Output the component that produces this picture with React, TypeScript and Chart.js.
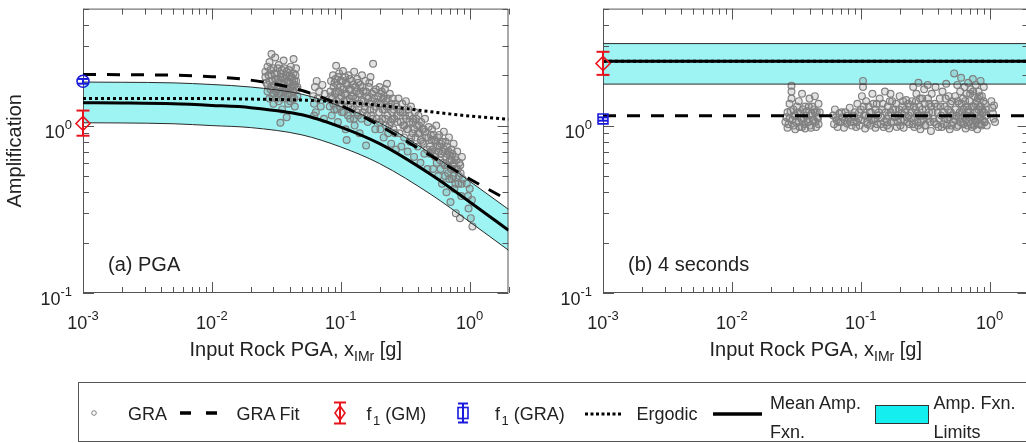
import React, { useEffect, useRef } from "react";
import { Chart, registerables } from "chart.js";

Chart.register(...registerables);

const FONT = "'Liberation Sans', Arial, Helvetica, sans-serif";

// ---------- axes ----------
const xRange = [0.001, 2];
const yRange = [0.1, 5];
const xTickValues = [0.001, 0.01, 0.1, 1];
const xTickExponents = ["-3", "-2", "-1", "0"];
const yTickValues = [0.1, 1];
const yTickExponents = ["-1", "0"];

// ---------- (a) PGA ----------
const curveX = [0.001, 0.002, 0.005, 0.01, 0.02, 0.05, 0.1, 0.2, 0.5, 1, 2];
const pgaMean = [1.37, 1.365, 1.35, 1.32, 1.28, 1.16, 0.98, 0.78, 0.51, 0.35, 0.237];
const pgaUpper = [1.82, 1.815, 1.8, 1.76, 1.7, 1.54, 1.3, 1.04, 0.68, 0.465, 0.316];
const pgaLower = [1.04, 1.037, 1.026, 1.0, 0.973, 0.88, 0.745, 0.593, 0.388, 0.266, 0.18];
const pgaErgodic = [1.45, 1.45, 1.45, 1.45, 1.44, 1.42, 1.38, 1.32, 1.21, 1.14, 1.09];
const pgaGraFit = [2.02, 2.015, 2.0, 1.96, 1.87, 1.62, 1.32, 1.0, 0.66, 0.48, 0.358];
const pgaF1GM = [1.03, 0.87, 1.23]; // value, low, high
const pgaF1GRA = [1.84, 1.78, 1.9];

const pgaGRA = [
  [0.026, 1.95], [0.026, 2.1], [0.027, 1.75], [0.027, 2.25], [0.027, 1.6], [0.028, 1.85], [0.028, 2.4], [0.028, 1.45],
  [0.029, 2.0], [0.029, 1.7], [0.029, 2.68], [0.03, 2.2], [0.03, 1.55], [0.03, 1.35], [0.031, 1.9], [0.031, 2.55],
  [0.032, 1.65], [0.032, 2.05], [0.033, 1.8], [0.033, 1.4], [0.033, 2.3], [0.034, 1.95], [0.034, 1.6], [0.034, 1.04],
  [0.035, 2.15], [0.035, 1.25], [0.036, 1.75], [0.036, 2.45], [0.037, 1.5], [0.037, 1.9], [0.038, 2.1], [0.038, 1.65],
  [0.038, 1.12], [0.039, 1.8], [0.039, 1.35], [0.04, 2.0], [0.04, 1.55], [0.041, 2.25], [0.041, 1.7], [0.042, 1.45],
  [0.042, 1.9], [0.043, 2.05], [0.043, 1.6], [0.043, 2.5], [0.044, 1.75], [0.044, 1.3], [0.045, 1.85], [0.045, 2.2],
  [0.046, 1.5], [0.046, 1.7],
  [0.061, 1.5], [0.062, 1.35], [0.063, 1.7], [0.064, 1.2], [0.065, 1.85], [0.066, 1.45], [0.068, 1.6], [0.07, 1.3],
  [0.072, 1.75], [0.074, 1.1], [0.075, 1.55], [0.062, 1.15],
  [0.082, 1.3], [0.083, 1.6], [0.084, 1.85], [0.085, 1.15], [0.086, 1.45], [0.087, 2.0], [0.088, 1.7], [0.089, 1.25],
  [0.09, 1.55], [0.091, 1.9], [0.092, 2.28], [0.093, 1.4], [0.094, 1.75], [0.095, 1.05], [0.096, 1.6], [0.097, 2.05],
  [0.098, 1.3], [0.1, 1.85], [0.101, 1.5], [0.102, 1.2], [0.104, 2.12], [0.105, 1.65], [0.106, 1.4], [0.108, 1.95],
  [0.109, 0.95], [0.11, 1.55], [0.111, 0.82], [0.112, 1.75], [0.114, 1.3], [0.115, 2.0], [0.117, 1.45], [0.118, 1.1],
  [0.12, 1.65], [0.122, 1.85], [0.123, 1.25], [0.125, 1.5], [0.127, 2.1], [0.128, 1.0], [0.13, 1.7], [0.132, 1.35],
  [0.134, 1.9], [0.136, 1.15], [0.138, 1.55], [0.14, 0.9], [0.142, 1.75], [0.144, 1.4], [0.146, 2.0], [0.148, 1.2],
  [0.15, 1.6], [0.153, 1.3], [0.155, 1.85], [0.157, 0.76], [0.16, 1.5], [0.162, 1.05], [0.165, 1.7], [0.168, 1.35],
  [0.17, 1.95], [0.172, 1.15], [0.175, 1.55], [0.178, 2.34], [0.18, 1.25], [0.182, 1.45], [0.185, 0.95], [0.187, 1.65],
  [0.19, 1.1], [0.19, 1.38],
  [0.195, 1.5], [0.198, 1.2], [0.2, 1.7], [0.203, 0.95], [0.205, 1.35], [0.208, 1.6], [0.21, 1.1], [0.213, 1.45],
  [0.215, 0.85], [0.218, 1.25], [0.22, 1.65], [0.223, 1.0], [0.225, 1.4], [0.228, 1.78], [0.23, 1.15], [0.233, 0.9],
  [0.236, 1.3], [0.24, 1.55], [0.243, 1.05], [0.246, 0.78], [0.25, 1.2], [0.253, 1.45], [0.256, 0.95], [0.26, 1.1],
  [0.265, 1.35], [0.268, 0.72],
  [0.27, 1.3], [0.275, 1.05], [0.28, 1.45], [0.285, 0.9], [0.29, 1.2], [0.295, 0.75], [0.3, 1.35], [0.305, 1.0],
  [0.31, 0.85], [0.315, 1.15], [0.32, 1.4], [0.325, 0.95], [0.33, 0.7], [0.335, 1.25], [0.34, 1.05], [0.345, 0.8],
  [0.35, 1.3], [0.36, 0.9], [0.365, 1.1], [0.37, 0.65], [0.375, 1.2], [0.38, 0.85], [0.39, 1.0], [0.395, 0.75],
  [0.4, 1.15], [0.41, 0.9], [0.415, 0.6], [0.42, 1.05], [0.43, 0.8], [0.44, 0.95], [0.445, 0.68], [0.45, 1.1],
  [0.46, 0.85], [0.47, 0.55], [0.48, 0.98], [0.49, 0.75], [0.5, 0.88],
  [0.5, 0.7], [0.51, 0.95], [0.52, 0.55], [0.53, 0.82], [0.54, 0.65], [0.55, 1.0], [0.56, 0.75], [0.57, 0.5],
  [0.58, 0.88], [0.59, 0.62], [0.6, 0.78], [0.61, 0.45], [0.62, 0.7], [0.63, 0.92], [0.64, 0.58], [0.65, 0.8],
  [0.66, 0.4], [0.67, 0.68], [0.68, 0.52], [0.69, 0.85], [0.7, 0.62], [0.71, 0.35], [0.72, 0.72], [0.73, 0.48],
  [0.74, 0.58], [0.75, 0.78], [0.76, 0.42], [0.77, 0.65], [0.78, 0.3], [0.79, 0.55], [0.8, 0.7], [0.82, 0.45],
  [0.83, 0.6], [0.84, 0.28], [0.85, 0.52], [0.86, 0.38], [0.87, 0.65], [0.88, 0.48],
  [0.95, 0.45], [0.97, 0.38], [0.98, 0.32], [1.0, 0.42], [1.02, 0.28], [1.04, 0.36], [1.05, 0.25],
];

// denser cores of the PGA clusters
const pgaGRACore = [
  [0.0265, 1.8], [0.0275, 2.0], [0.0285, 1.65], [0.0285, 2.15], [0.0295, 1.85], [0.0295, 1.5], [0.0305, 1.75],
  [0.0305, 2.05], [0.0315, 1.6], [0.0315, 1.45], [0.0325, 1.9], [0.0325, 2.2], [0.0335, 1.7], [0.0335, 1.55],
  [0.0345, 2.05], [0.0345, 1.8], [0.0355, 1.45], [0.0355, 1.95], [0.0365, 1.6], [0.0365, 2.2], [0.0375, 1.7],
  [0.0375, 2.0], [0.0385, 1.85], [0.0385, 1.5], [0.0395, 2.15], [0.0395, 1.65], [0.0405, 1.8], [0.0405, 1.4],
  [0.0415, 1.95], [0.0425, 1.6], [0.0425, 1.75], [0.0435, 1.85], [0.0435, 1.45], [0.0445, 2.0], [0.0455, 1.65],
  [0.0845, 1.5], [0.0875, 1.35], [0.0895, 1.8], [0.0915, 1.6], [0.0935, 1.25], [0.0955, 1.95], [0.0975, 1.45],
  [0.0995, 1.7], [0.1015, 1.35], [0.1035, 1.85], [0.1055, 1.2], [0.1075, 1.55], [0.1095, 1.8], [0.1115, 1.4],
  [0.1135, 1.15], [0.1155, 1.65], [0.1175, 1.9], [0.1195, 1.3], [0.1215, 1.5], [0.1245, 1.75], [0.1265, 1.1],
  [0.1295, 1.45], [0.1315, 1.6], [0.1335, 1.2], [0.1365, 1.8], [0.1395, 1.35], [0.1415, 1.55], [0.1445, 1.1],
  [0.1475, 1.7], [0.1505, 1.4], [0.1535, 1.25], [0.1565, 1.6], [0.1595, 1.15], [0.1635, 1.45], [0.1665, 1.8],
  [0.1695, 1.25], [0.1735, 1.4], [0.1765, 1.1], [0.1805, 1.6], [0.1845, 1.3],
  [0.197, 1.35], [0.201, 1.05], [0.206, 1.55], [0.211, 1.25], [0.216, 1.5], [0.221, 1.1], [0.226, 1.3],
  [0.231, 1.45], [0.238, 1.0], [0.245, 1.35], [0.251, 1.1], [0.258, 1.25], [0.263, 0.9],
  [0.272, 1.15], [0.282, 1.25], [0.292, 1.05], [0.302, 1.2], [0.312, 1.0], [0.322, 1.1], [0.332, 0.95],
  [0.342, 1.15], [0.352, 0.85], [0.362, 1.05], [0.372, 0.95], [0.385, 1.1], [0.398, 0.9], [0.405, 1.0],
  [0.418, 0.82], [0.428, 0.95], [0.438, 0.78], [0.452, 0.92], [0.465, 0.72], [0.478, 0.85], [0.492, 0.68],
  [0.505, 0.82], [0.515, 0.72], [0.525, 0.88], [0.535, 0.68], [0.545, 0.8], [0.555, 0.6], [0.565, 0.85],
  [0.575, 0.7], [0.585, 0.75], [0.595, 0.55], [0.605, 0.68], [0.615, 0.8], [0.625, 0.6], [0.635, 0.72],
  [0.645, 0.5], [0.655, 0.65], [0.665, 0.75], [0.675, 0.58], [0.685, 0.7], [0.695, 0.48], [0.705, 0.66],
  [0.715, 0.55], [0.725, 0.62], [0.735, 0.68], [0.745, 0.5], [0.755, 0.6], [0.765, 0.55], [0.775, 0.45],
  [0.785, 0.62], [0.81, 0.55], [0.825, 0.5], [0.845, 0.58], [0.865, 0.45],
];

// ---------- (b) 4 seconds ----------
const t4X = [0.001, 2];
const t4Mean = [2.42, 2.42];
const t4Upper = [3.09, 3.09];
const t4Lower = [1.77, 1.77];
const t4Ergodic = [2.42, 2.42];
const t4GraFit = [1.147, 1.147];
const t4F1GM = [2.35, 2.01, 2.76];
const t4F1GRA = [1.096, 1.07, 1.12];

const t4GRA = [
  [0.026, 1.05], [0.027, 1.2], [0.027, 0.97], [0.028, 1.35], [0.028, 1.1], [0.029, 1.73], [0.029, 1.6], [0.029, 1.45],
  [0.03, 1.0], [0.03, 1.25], [0.031, 1.15], [0.031, 0.95], [0.032, 1.3], [0.033, 1.05], [0.033, 1.4], [0.034, 1.18],
  [0.035, 0.98], [0.035, 1.55], [0.036, 1.1], [0.037, 1.3], [0.037, 0.96], [0.038, 1.22], [0.039, 1.05], [0.04, 1.45],
  [0.04, 1.15], [0.041, 0.97], [0.042, 1.3], [0.043, 1.08], [0.044, 1.2], [0.044, 1.5], [0.045, 0.98], [0.046, 1.12],
  [0.047, 1.35], [0.047, 1.02], [0.048, 1.2],
  [0.061, 1.15], [0.062, 1.02], [0.063, 1.25], [0.065, 1.08], [0.066, 0.98], [0.068, 1.18], [0.07, 1.05], [0.072, 1.12],
  [0.074, 0.97], [0.076, 1.2], [0.078, 1.03], [0.08, 1.1], [0.082, 1.28], [0.085, 1.0], [0.087, 1.15],
  [0.088, 1.05], [0.09, 1.2], [0.092, 0.98], [0.094, 1.35], [0.096, 1.1], [0.098, 1.0], [0.1, 1.25], [0.102, 1.5],
  [0.104, 1.85], [0.104, 1.7], [0.106, 1.15], [0.108, 0.96], [0.11, 1.4], [0.112, 1.05], [0.115, 1.3], [0.118, 1.0],
  [0.12, 1.2], [0.123, 1.55], [0.126, 1.08], [0.13, 0.97], [0.133, 1.35], [0.136, 1.15], [0.14, 1.45], [0.143, 1.02],
  [0.146, 1.25], [0.15, 0.98], [0.154, 1.6], [0.158, 1.1], [0.162, 1.3], [0.166, 0.96], [0.17, 1.2], [0.175, 1.4],
  [0.18, 1.05], [0.185, 1.25], [0.19, 0.98], [0.195, 1.15], [0.2, 1.5], [0.205, 1.08], [0.21, 1.3], [0.215, 0.97],
  [0.22, 1.2], [0.225, 1.42], [0.23, 1.05], [0.235, 1.15], [0.24, 1.3], [0.17, 1.55], [0.13, 1.25], [0.115, 1.12],
  [0.245, 1.1], [0.25, 1.4], [0.255, 1.7], [0.26, 0.98], [0.265, 1.25], [0.27, 1.55], [0.275, 1.05], [0.28, 1.8],
  [0.285, 1.3], [0.29, 0.95], [0.295, 1.15], [0.3, 1.45], [0.31, 1.65], [0.315, 1.0], [0.32, 1.25], [0.33, 1.75],
  [0.335, 1.1], [0.34, 1.35], [0.35, 0.93], [0.355, 1.55], [0.36, 1.2], [0.37, 1.05], [0.38, 1.7], [0.39, 1.3],
  [0.4, 0.98], [0.41, 1.45], [0.42, 1.15], [0.43, 1.6], [0.44, 1.02], [0.45, 1.3], [0.46, 1.78], [0.47, 1.1],
  [0.48, 1.5], [0.49, 0.95], [0.5, 1.2], [0.51, 1.4], [0.52, 1.05],
  [0.53, 2.05], [0.54, 1.5], [0.55, 1.15], [0.56, 1.75], [0.57, 1.0], [0.58, 1.35], [0.59, 1.6], [0.6, 1.93],
  [0.61, 1.1], [0.62, 1.45], [0.63, 1.25], [0.64, 1.7], [0.65, 0.96], [0.66, 1.55], [0.67, 1.2], [0.68, 1.8],
  [0.69, 1.05], [0.7, 1.4], [0.71, 1.65], [0.72, 1.15], [0.73, 0.98], [0.74, 1.9], [0.75, 1.3], [0.76, 1.5],
  [0.77, 1.08], [0.78, 1.75], [0.79, 1.2], [0.8, 0.95], [0.81, 1.45], [0.82, 1.6], [0.83, 1.1], [0.84, 1.3],
  [0.85, 1.85], [0.86, 1.02], [0.87, 1.5], [0.88, 1.2], [0.9, 1.7], [0.91, 1.05], [0.92, 1.35], [0.94, 1.15],
  [0.95, 1.0],
  [1.03, 1.4], [1.05, 1.28], [1.06, 1.18], [1.07, 1.1], [1.08, 1.32], [1.1, 1.05],
];

// denser cores of the 4-second clusters
const t4GRACore = [
  [0.0265, 1.12], [0.0275, 1.02], [0.0285, 1.22], [0.0295, 1.08], [0.0305, 1.15], [0.0315, 1.05], [0.0325, 1.2],
  [0.0335, 0.98], [0.0345, 1.1], [0.0355, 1.25], [0.0365, 1.02], [0.0375, 1.15], [0.0385, 1.08], [0.0395, 1.3],
  [0.0405, 1.0], [0.0415, 1.18], [0.0425, 1.08], [0.0435, 1.25], [0.0445, 1.05], [0.0455, 1.2], [0.0465, 1.1],
  [0.064, 1.12], [0.067, 1.05], [0.071, 1.2], [0.075, 1.08], [0.079, 1.15], [0.083, 1.05],
  [0.089, 1.12], [0.093, 1.05], [0.097, 1.2], [0.101, 1.08], [0.105, 1.3], [0.109, 1.15], [0.113, 1.02],
  [0.117, 1.2], [0.121, 1.08], [0.125, 1.35], [0.129, 1.1], [0.134, 1.02], [0.138, 1.2], [0.144, 1.12],
  [0.148, 1.35], [0.152, 1.05], [0.156, 1.2], [0.16, 1.0], [0.164, 1.15], [0.168, 1.4], [0.172, 1.05],
  [0.178, 1.25], [0.183, 1.12], [0.188, 1.35], [0.193, 1.05], [0.198, 1.25], [0.203, 1.0], [0.208, 1.18],
  [0.213, 1.4], [0.218, 1.08], [0.223, 1.25], [0.228, 1.12], [0.233, 1.35], [0.238, 1.02],
  [0.248, 1.2], [0.253, 1.02], [0.258, 1.3], [0.263, 1.12], [0.268, 1.4], [0.273, 1.18], [0.278, 1.0],
  [0.283, 1.15], [0.288, 1.45], [0.293, 1.05], [0.3, 1.25], [0.305, 1.1], [0.312, 1.35], [0.318, 1.0],
  [0.325, 1.15], [0.332, 1.45], [0.338, 1.2], [0.345, 1.05], [0.352, 1.3], [0.365, 1.1], [0.375, 1.35],
  [0.385, 1.02], [0.395, 1.2], [0.405, 1.1], [0.415, 1.3], [0.425, 0.98], [0.435, 1.2], [0.445, 1.1],
  [0.455, 1.45], [0.465, 1.0], [0.475, 1.25], [0.485, 1.12], [0.495, 1.35], [0.505, 1.0], [0.515, 1.15],
  [0.535, 1.1], [0.545, 1.25], [0.555, 0.98], [0.565, 1.4], [0.575, 1.12], [0.585, 1.2], [0.595, 1.05],
  [0.605, 1.35], [0.615, 1.2], [0.625, 1.02], [0.635, 1.15], [0.645, 1.4], [0.655, 1.08], [0.665, 1.3],
  [0.675, 1.0], [0.685, 1.25], [0.695, 1.12], [0.705, 1.55], [0.715, 1.02], [0.725, 1.3], [0.735, 1.12],
  [0.745, 1.6], [0.755, 1.0], [0.765, 1.2], [0.775, 1.35], [0.785, 1.05], [0.795, 1.4], [0.805, 1.1],
  [0.815, 1.25], [0.825, 1.02], [0.835, 1.5], [0.845, 1.12], [0.855, 1.3], [0.865, 1.0], [0.875, 1.25],
  [0.885, 1.08], [0.895, 1.4], [0.905, 1.2], [0.915, 1.05], [0.93, 1.25],
];

const f1X = 0.001;

// ---------- styles ----------
const BAND_FILL = "rgb(158, 243, 243)";
const BAND_EDGE = "#2b2b2b";
const GRA_GRAY = "rgb(128,128,128)";
const AXIS_COLOR = "#555555";
const TEXT_COLOR = "#222222";

const pts = (xs: number[], ys: number[]) => xs.map((x, i) => ({ x, y: ys[i] }));

function drawPow(ctx: CanvasRenderingContext2D, exp: string, x: number, y: number, align: string) {
  ctx.font = `18px ${FONT}`;
  const wb = ctx.measureText("10").width;
  ctx.font = `13px ${FONT}`;
  const we = ctx.measureText(exp).width;
  const total = wb + we;
  const x0 = align === "center" ? x - total / 2 : x - total;
  ctx.textAlign = "left";
  ctx.textBaseline = "alphabetic";
  ctx.font = `18px ${FONT}`;
  ctx.fillText("10", x0, y);
  ctx.font = `13px ${FONT}`;
  ctx.fillText(exp, x0 + wb, y - 9);
}

function logTicks(min: number, max: number) {
  const out: { v: number; major: boolean }[] = [];
  for (let e = Math.floor(Math.log10(min)); e <= Math.ceil(Math.log10(max)); e++) {
    for (let m = 1; m <= 9; m++) {
      const v = m * Math.pow(10, e);
      if (v >= min * 0.9999 && v <= max * 1.0001) out.push({ v, major: m === 1 });
    }
  }
  return out;
}

const framePlugin = {
  id: "matlabFrame",
  beforeDatasetsDraw(chart: any) {
    const { ctx, chartArea, scales } = chart;
    const { left, top, right, bottom } = chartArea;
    const x = scales.x;
    const y = scales.y;
    ctx.save();
    ctx.strokeStyle = AXIS_COLOR;
    ctx.lineWidth = 1;
    ctx.beginPath();
    ctx.rect(left + 0.5, top + 0.5, right - left - 1, bottom - top - 1);
    ctx.stroke();
    ctx.beginPath();
    for (const t of logTicks(xRange[0], xRange[1])) {
      const px = Math.round(x.getPixelForValue(t.v)) + 0.5;
      const len = t.major ? 11 : 6;
      ctx.moveTo(px, bottom);
      ctx.lineTo(px, bottom - len);
      ctx.moveTo(px, top);
      ctx.lineTo(px, top + len);
    }
    for (const t of logTicks(yRange[0], yRange[1])) {
      const py = Math.round(y.getPixelForValue(t.v)) + 0.5;
      const len = t.major ? 11 : 6;
      ctx.moveTo(left, py);
      ctx.lineTo(left + len, py);
      ctx.moveTo(right, py);
      ctx.lineTo(right - len, py);
    }
    ctx.stroke();
    ctx.restore();
  },
  afterDraw(chart: any, _args: any, opts: any) {
    const { ctx, chartArea, scales } = chart;
    const { left, top, right, bottom } = chartArea;
    const x = scales.x;
    const y = scales.y;
    ctx.save();
    ctx.fillStyle = TEXT_COLOR;
    xTickValues.forEach((v, i) => {
      drawPow(ctx, xTickExponents[i], x.getPixelForValue(v), bottom + 36, "center");
    });
    yTickValues.forEach((v, i) => {
      drawPow(ctx, yTickExponents[i], left - 11, y.getPixelForValue(v) + 12, "right");
    });
    // x title with subscript
    const t1 = "Input Rock PGA, x";
    const t2 = "IMr";
    const t3 = " [g]";
    ctx.font = `20px ${FONT}`;
    const w1 = ctx.measureText(t1).width;
    const w3 = ctx.measureText(t3).width;
    ctx.font = `14px ${FONT}`;
    const w2 = ctx.measureText(t2).width;
    let tx = (left + right) / 2 - (w1 + w2 + w3) / 2;
    const ty = bottom + 63;
    ctx.textAlign = "left";
    ctx.font = `20px ${FONT}`;
    ctx.fillText(t1, tx, ty);
    tx += w1;
    ctx.font = `14px ${FONT}`;
    ctx.fillText(t2, tx, ty + 5);
    tx += w2;
    ctx.font = `20px ${FONT}`;
    ctx.fillText(t3, tx, ty);
    // y title (left panel only)
    if (opts.yTitle) {
      ctx.save();
      ctx.translate(21, (top + bottom) / 2);
      ctx.rotate(-Math.PI / 2);
      ctx.textAlign = "center";
      ctx.font = `20px ${FONT}`;
      ctx.fillText(opts.yTitle, 0, 0);
      ctx.restore();
    }
    // panel label
    ctx.textAlign = "left";
    ctx.font = `20px ${FONT}`;
    ctx.fillText(opts.label, left + 25, bottom - 22);
    ctx.restore();
  },
};

function makeConfig(p: any): any {
  const line = (data: any, extra: any) => ({
    data,
    pointRadius: 0,
    borderColor: "#000",
    fill: false,
    cubicInterpolationMode: "monotone",
    ...extra,
  });
  const errBar = (vals: number[], color: string, cap: number, order: number) => ({
    data: [{ x: f1X, y: vals[1] }, { x: f1X, y: vals[2] }],
    showLine: true,
    borderColor: color,
    borderWidth: 2,
    pointStyle: "line",
    pointRadius: cap,
    pointBorderColor: color,
    pointBorderWidth: 2,
    clip: false,
    order,
  });
  const marker = (v: number, color: string, style: string, r: number, order: number) => ({
    data: [{ x: f1X, y: v }],
    showLine: false,
    pointStyle: style,
    pointRadius: r,
    pointBorderColor: color,
    pointBackgroundColor: "rgba(255,255,255,0)",
    pointBorderWidth: 1.6,
    clip: false,
    order,
  });
  return {
    type: "line",
    data: {
      datasets: [
        {
          label: "GRA",
          data: p.gra.concat(p.graCore).map((d: number[]) => ({ x: d[0], y: d[1] })),
          showLine: false,
          pointStyle: "circle",
          pointRadius: 3.4,
          pointBorderWidth: 1.2,
          pointBorderColor: GRA_GRAY,
          pointBackgroundColor: "rgba(128,128,128,0.22)",
          order: 10,
        },
        line(pts(p.x, p.lower), { label: "Lower", borderColor: BAND_EDGE, borderWidth: 1, order: 6 }),
        line(pts(p.x, p.upper), {
          label: "Amp. Fxn. Limits",
          borderColor: BAND_EDGE,
          borderWidth: 1,
          fill: "-1",
          backgroundColor: BAND_FILL,
          order: 6,
        }),
        line(pts(p.x, p.mean), { label: "Mean Amp. Fxn.", borderWidth: 3, order: 5 }),
        line(pts(p.x, p.ergodic), { label: "Ergodic", borderWidth: 3, borderDash: [3, 3], order: 4 }),
        line(pts(p.x, p.fit), { label: "GRA Fit", borderWidth: 3, borderDash: [13, 11], order: 3 }),
        errBar(p.gm, "#e8141c", 6.5, 2),
        marker(p.gm[0], "#e8141c", "rectRot", 7, 1),
        errBar(p.graF1, "#1a1adc", 5, 2),
        marker(p.graF1[0], "#1a1adc", p.blueStyle, p.blueR, 1),
      ],
    },
    options: {
      animation: false,
      responsive: false,
      devicePixelRatio: 1,
      events: [],
      layout: { padding: { left: 0, right: 11.5, top: 8, bottom: 0 } },
      scales: {
        x: {
          type: "logarithmic",
          min: xRange[0],
          max: xRange[1],
          ticks: { display: false },
          grid: { display: false },
          border: { display: false },
          afterFit: (s: any) => {
            s.height = 82;
            s.paddingLeft = 0;
            s.paddingRight = 0;
          },
        },
        y: {
          type: "logarithmic",
          min: yRange[0],
          max: yRange[1],
          ticks: { display: false },
          grid: { display: false },
          border: { display: false },
          afterFit: (s: any) => {
            s.width = 83;
            s.paddingTop = 0;
            s.paddingBottom = 0;
          },
        },
      },
      plugins: {
        legend: { display: false },
        tooltip: { enabled: false },
        filler: { drawTime: "beforeDatasetsDraw" },
        matlabFrame: { label: p.label, yTitle: p.yTitle },
      },
    },
    plugins: [framePlugin],
  };
}

const panelA = {
  label: "(a) PGA",
  yTitle: "Amplification",
  x: curveX,
  mean: pgaMean,
  upper: pgaUpper,
  lower: pgaLower,
  ergodic: pgaErgodic,
  fit: pgaGraFit,
  gm: pgaF1GM,
  graF1: pgaF1GRA,
  gra: pgaGRA,
  graCore: pgaGRACore,
  blueStyle: "circle",
  blueR: 6,
};

const panelB = {
  label: "(b) 4 seconds",
  yTitle: "",
  x: t4X,
  mean: t4Mean,
  upper: t4Upper,
  lower: t4Lower,
  ergodic: t4Ergodic,
  fit: t4GraFit,
  gm: t4F1GM,
  graF1: t4F1GRA,
  gra: t4GRA,
  graCore: t4GRACore,
  blueStyle: "rect",
  blueR: 7,
};

function Legend() {
  const ty = 419.5;
  return (
    <svg
      width={1026}
      height={443}
      style={{ position: "absolute", left: 0, top: 0, pointerEvents: "none" }}
    >
      <rect x={78.5} y={382.5} width={1000} height={59} fill="#fff" stroke={AXIS_COLOR} strokeWidth={1} />
      <g fontFamily={FONT} fontSize={18} fill={TEXT_COLOR}>
        <circle cx={94} cy={413} r={2.3} fill="none" stroke={GRA_GRAY} strokeWidth={1} />
        <text x={128} y={ty}>GRA</text>
        <line x1={180} x2={217} y1={413} y2={413} stroke="#000" strokeWidth={3.5} strokeDasharray="11 15" />
        <text x={236.5} y={ty}>GRA Fit</text>
        <line x1={340} x2={340} y1={402.5} y2={423.5} stroke="#e8141c" strokeWidth={2} />
        <line x1={334} x2={346} y1={402.5} y2={402.5} stroke="#e8141c" strokeWidth={2} />
        <line x1={334} x2={346} y1={423.5} y2={423.5} stroke="#e8141c" strokeWidth={2} />
        <polygon points="340,406 345,413 340,420 335,413" fill="none" stroke="#e8141c" strokeWidth={1.6} />
        <text x={366.5} y={ty}>
          f<tspan dx={1.5} dy={5} fontSize={13}>1</tspan>
          <tspan dy={-5}> (GM)</tspan>
        </text>
        <line x1={463} x2={463} y1={403.5} y2={422.5} stroke="#1a1adc" strokeWidth={2} />
        <line x1={458} x2={468} y1={403.5} y2={403.5} stroke="#1a1adc" strokeWidth={2} />
        <line x1={458} x2={468} y1={422.5} y2={422.5} stroke="#1a1adc" strokeWidth={2} />
        <rect x={458} y={407.5} width={10} height={11} fill="none" stroke="#1a1adc" strokeWidth={1.6} />
        <text x={495} y={ty}>
          f<tspan dx={1.5} dy={5} fontSize={13}>1</tspan>
          <tspan dy={-5}> (GRA)</tspan>
        </text>
        <line x1={585} x2={623} y1={414} y2={414} stroke="#000" strokeWidth={3} strokeDasharray="3 2.5" />
        <text x={636.5} y={ty}>Ergodic</text>
        <line x1={713} x2={762} y1={414} y2={414} stroke="#000" strokeWidth={3.5} />
        <text x={770} y={408.5}>Mean Amp.</text>
        <text x={770} y={438}>Fxn.</text>
        <rect x={875.5} y={405.5} width={53} height={18} fill="#14eeee" stroke="#333" strokeWidth={1} />
        <text x={933.5} y={408.5}>Amp. Fxn.</text>
        <text x={933.5} y={438}>Limits</text>
      </g>
    </svg>
  );
}

export default function App() {
  const refA = useRef<HTMLCanvasElement>(null);
  const refB = useRef<HTMLCanvasElement>(null);
  useEffect(() => {
    const a = new Chart(refA.current as HTMLCanvasElement, makeConfig(panelA));
    const b = new Chart(refB.current as HTMLCanvasElement, makeConfig(panelB));
    return () => {
      a.destroy();
      b.destroy();
    };
  }, []);
  return (
    <div
      style={{
        position: "fixed",
        left: 0,
        top: 0,
        width: 1026,
        height: 443,
        overflow: "hidden",
        background: "#fff",
      }}
    >
      <canvas
        ref={refA}
        width={520}
        height={375}
        style={{ position: "absolute", left: 0, top: 0, width: 520, height: 375 }}
      />
      <canvas
        ref={refB}
        width={520}
        height={375}
        style={{ position: "absolute", left: 520, top: 0, width: 520, height: 375 }}
      />
      <Legend />
    </div>
  );
}
